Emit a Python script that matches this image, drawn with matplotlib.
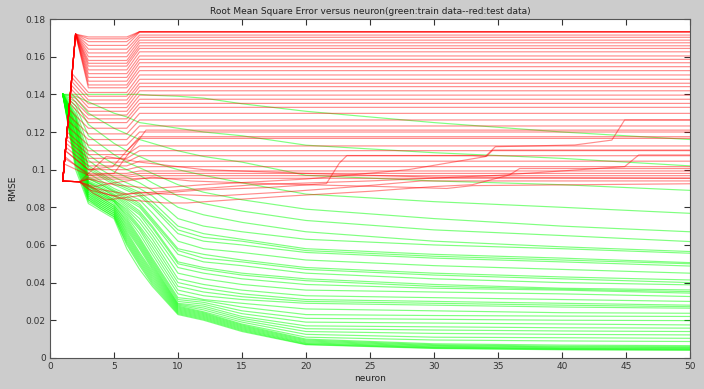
import numpy as np
import matplotlib.pyplot as plt
from matplotlib.ticker import FuncFormatter

# ---- train data (green): RMSE at these neuron counts, one row per run ----
green_x = [1, 2, 3, 4, 5, 6, 7, 8, 10, 12, 15, 20, 30, 40, 50]
green_lines = [
    [0.140, 0.100, 0.082, 0.078, 0.074, 0.058, 0.047, 0.038, 0.0230, 0.0200, 0.0140, 0.0070, 0.0050, 0.0043, 0.0040],
    [0.140, 0.102, 0.083, 0.079, 0.075, 0.060, 0.049, 0.039, 0.0235, 0.0205, 0.0145, 0.0072, 0.0052, 0.0045, 0.0043],
    [0.140, 0.103, 0.084, 0.079, 0.075, 0.061, 0.050, 0.040, 0.0240, 0.0210, 0.0150, 0.0076, 0.0055, 0.0048, 0.0046],
    [0.140, 0.104, 0.084, 0.080, 0.076, 0.062, 0.051, 0.041, 0.0245, 0.0215, 0.0155, 0.0080, 0.0058, 0.0050, 0.0048],
    [0.140, 0.105, 0.085, 0.080, 0.076, 0.063, 0.052, 0.042, 0.0250, 0.0220, 0.0160, 0.0085, 0.0062, 0.0054, 0.0052],
    [0.140, 0.106, 0.085, 0.081, 0.077, 0.064, 0.053, 0.043, 0.0255, 0.0225, 0.0165, 0.0090, 0.0066, 0.0058, 0.0055],
    [0.140, 0.107, 0.086, 0.081, 0.077, 0.065, 0.054, 0.044, 0.0260, 0.0230, 0.0170, 0.0095, 0.0070, 0.0062, 0.0060],
    [0.140, 0.108, 0.086, 0.082, 0.078, 0.066, 0.055, 0.045, 0.0265, 0.0235, 0.0175, 0.0100, 0.0075, 0.0068, 0.0065],
    [0.140, 0.109, 0.087, 0.082, 0.078, 0.067, 0.056, 0.046, 0.0270, 0.0240, 0.0180, 0.0110, 0.0095, 0.0090, 0.0087],
    [0.140, 0.110, 0.087, 0.083, 0.079, 0.068, 0.058, 0.047, 0.0275, 0.0245, 0.0190, 0.0125, 0.0110, 0.0107, 0.0104],
    [0.140, 0.111, 0.088, 0.083, 0.079, 0.069, 0.059, 0.048, 0.0280, 0.0255, 0.0200, 0.0140, 0.0130, 0.0125, 0.0122],
    [0.140, 0.112, 0.088, 0.084, 0.080, 0.070, 0.060, 0.049, 0.0285, 0.0265, 0.0210, 0.0155, 0.0148, 0.0143, 0.0140],
    [0.140, 0.113, 0.089, 0.084, 0.080, 0.071, 0.061, 0.050, 0.0290, 0.0275, 0.0220, 0.0170, 0.0165, 0.0160, 0.0158],
    [0.140, 0.114, 0.089, 0.085, 0.081, 0.072, 0.062, 0.051, 0.0300, 0.0285, 0.0235, 0.0190, 0.0185, 0.0180, 0.0175],
    [0.140, 0.115, 0.090, 0.085, 0.081, 0.073, 0.063, 0.052, 0.0310, 0.0295, 0.0250, 0.0210, 0.0205, 0.0200, 0.0198],
    [0.140, 0.116, 0.090, 0.086, 0.082, 0.074, 0.064, 0.053, 0.0320, 0.0305, 0.0270, 0.0230, 0.0225, 0.0222, 0.0220],
    [0.140, 0.117, 0.091, 0.086, 0.083, 0.075, 0.066, 0.055, 0.0340, 0.0310, 0.0290, 0.0260, 0.0250, 0.0240, 0.0237],
    [0.140, 0.118, 0.091, 0.087, 0.083, 0.076, 0.068, 0.057, 0.0360, 0.0330, 0.0310, 0.0290, 0.0280, 0.0270, 0.0264],
    [0.140, 0.1185, 0.0915, 0.087, 0.0835, 0.077, 0.069, 0.059, 0.0380, 0.0350, 0.0325, 0.0300, 0.0290, 0.0280, 0.0272],
    [0.140, 0.119, 0.092, 0.088, 0.084, 0.078, 0.070, 0.061, 0.0400, 0.0370, 0.0340, 0.0310, 0.0300, 0.0290, 0.0280],
    [0.140, 0.120, 0.092, 0.088, 0.084, 0.079, 0.072, 0.063, 0.0420, 0.0390, 0.0360, 0.0330, 0.0320, 0.0310, 0.0300],
    [0.140, 0.121, 0.093, 0.089, 0.085, 0.080, 0.074, 0.065, 0.0450, 0.0420, 0.0390, 0.0360, 0.0350, 0.0340, 0.0326],
    [0.140, 0.122, 0.093, 0.090, 0.086, 0.081, 0.076, 0.067, 0.0480, 0.0450, 0.0420, 0.0390, 0.0370, 0.0360, 0.0344],
    [0.140, 0.1225, 0.0935, 0.090, 0.0865, 0.082, 0.077, 0.069, 0.0500, 0.0470, 0.0440, 0.0410, 0.0380, 0.0365, 0.0352],
    [0.140, 0.123, 0.094, 0.091, 0.087, 0.083, 0.078, 0.070, 0.0510, 0.0480, 0.0450, 0.0420, 0.0390, 0.0370, 0.0361],
    [0.140, 0.124, 0.095, 0.092, 0.088, 0.084, 0.080, 0.072, 0.0550, 0.0510, 0.0490, 0.0450, 0.0420, 0.0400, 0.0388],
    [0.140, 0.1245, 0.0955, 0.092, 0.0885, 0.085, 0.081, 0.073, 0.0570, 0.0530, 0.0510, 0.0470, 0.0440, 0.0420, 0.0400],
    [0.140, 0.125, 0.096, 0.093, 0.089, 0.086, 0.082, 0.074, 0.0580, 0.0550, 0.0520, 0.0480, 0.0450, 0.0430, 0.0414],
    [0.140, 0.126, 0.098, 0.094, 0.090, 0.087, 0.084, 0.077, 0.0620, 0.0580, 0.0560, 0.0520, 0.0490, 0.0470, 0.0450],
    [0.140, 0.127, 0.100, 0.096, 0.092, 0.089, 0.086, 0.080, 0.0660, 0.0620, 0.0600, 0.0560, 0.0530, 0.0510, 0.0488],
    [0.140, 0.1275, 0.101, 0.097, 0.093, 0.090, 0.087, 0.081, 0.0680, 0.0640, 0.0620, 0.0570, 0.0540, 0.0520, 0.0500],
    [0.140, 0.128, 0.102, 0.098, 0.094, 0.091, 0.088, 0.083, 0.0700, 0.0660, 0.0630, 0.0580, 0.0550, 0.0530, 0.0506],
    [0.140, 0.129, 0.105, 0.100, 0.096, 0.093, 0.090, 0.086, 0.0740, 0.0700, 0.0670, 0.0630, 0.0600, 0.0580, 0.0556],
    [0.140, 0.130, 0.108, 0.103, 0.099, 0.096, 0.093, 0.089, 0.0800, 0.0760, 0.0720, 0.0670, 0.0620, 0.0590, 0.0565],
    [0.140, 0.132, 0.112, 0.107, 0.103, 0.100, 0.097, 0.093, 0.0860, 0.0820, 0.0780, 0.0730, 0.0680, 0.0650, 0.0618],
    [0.140, 0.134, 0.118, 0.113, 0.108, 0.104, 0.101, 0.098, 0.0920, 0.0880, 0.0840, 0.0790, 0.0740, 0.0700, 0.0670],
    [0.140, 0.136, 0.124, 0.119, 0.114, 0.110, 0.107, 0.104, 0.1000, 0.0970, 0.0930, 0.0870, 0.0830, 0.0800, 0.0768],
    [0.140, 0.138, 0.130, 0.126, 0.122, 0.119, 0.116, 0.114, 0.1100, 0.1070, 0.1040, 0.0970, 0.0940, 0.0920, 0.0890],
    [0.140, 0.139, 0.136, 0.133, 0.130, 0.128, 0.125, 0.124, 0.1220, 0.1200, 0.1180, 0.1130, 0.1090, 0.1060, 0.1020],
    [0.140, 0.140, 0.140, 0.140, 0.140, 0.140, 0.140, 0.1395, 0.1390, 0.1380, 0.1350, 0.1310, 0.1250, 0.1200, 0.1160],
]

# ---- test data (red): mostly flat runs ----
# start at neuron 1, turn point, level from 3 to 6, level from 7 to 50
red_start = 0.094
red_turn_x = [2, 2, 2, 2, 2, 2, 2, 2, 2, 2, 2, 2, 2, 2, 2, 2,
              1.73, 1.71, 1.68, 1.65, 1.63, 1.60, 1.58, 1.55, 1.53, 1.49, 1.45,
              1.41, 1.37, 1.33, 1.31, 1.28, 1.26, 1.23, 1.21, 1.15, 1.12, 2.3, 2.3]
red_turn_y = [0.172] * 16 + [0.151, 0.149, 0.147, 0.145, 0.143, 0.141, 0.139, 0.137,
                             0.135, 0.132, 0.129, 0.126, 0.123, 0.120, 0.118, 0.116,
                             0.114, 0.112, 0.110, 0.106, 0.103, 0.0935, 0.0935]
red_mid = [0.1705, 0.1695, 0.168, 0.166, 0.164, 0.162, 0.160, 0.158, 0.1565, 0.155,
           0.153, 0.151, 0.149, 0.147, 0.145, 0.1435, 0.141, 0.139, 0.137, 0.135,
           0.133, 0.131, 0.129, 0.127, 0.125, 0.122, 0.119, 0.116, 0.113, 0.110,
           0.108, 0.106, 0.104, 0.102, 0.100, 0.098, 0.097, 0.096, 0.095]
red_end = [0.1733, 0.1733, 0.1733, 0.1730, 0.1715, 0.1703, 0.1688, 0.1674, 0.1658,
           0.1644, 0.1626, 0.1604, 0.1586, 0.1568, 0.1547, 0.1526, 0.1503, 0.1480,
           0.1459, 0.1441, 0.1419, 0.1396, 0.1374, 0.1352, 0.1331, 0.1299, 0.1264,
           0.1232, 0.1200, 0.1166, 0.1126, 0.1101, 0.1074, 0.1045, 0.1016, 0.0993,
           0.0980, 0.0968, 0.0954]

# red runs that wander in the lower band
red_wander_x = [
    [1, 2.3, 3.4, 4.4, 6.5, 8.6, 11.7, 17, 21.6, 22.6, 23.2, 33, 34.1, 34.6, 50],
    [1, 2.3, 4, 6, 9, 10.7, 14.3, 18.2, 25, 30, 33, 35.9, 36.7, 50],
    [1, 2.3, 3, 5, 8, 12, 20, 28, 34.0, 34.8, 41.0, 43.9, 44.9, 50],
    [1, 2.3, 3.5, 6, 10, 16, 25, 35, 44.9, 46, 50],
    [1, 2.3, 4.4, 7, 12, 20, 30, 50],
    [1, 2.3, 3.5, 5, 8, 11, 15, 20, 26, 31, 33, 50],
    [1, 1.2, 3, 4.9, 7, 50],
    [1, 1.15, 3, 5, 7.5, 50],
    [1, 2.3, 3.2, 5, 7, 9, 13, 18, 24, 29, 50],
]
red_wander_y = [
    [0.094, 0.0935, 0.0874, 0.0839, 0.0857, 0.0874, 0.0892, 0.0905, 0.0926, 0.1034, 0.1075, 0.1075, 0.107, 0.1104, 0.1104],
    [0.094, 0.0935, 0.088, 0.084, 0.0823, 0.0823, 0.084, 0.0858, 0.0885, 0.091, 0.092, 0.0972, 0.1006, 0.1006],
    [0.094, 0.0935, 0.095, 0.092, 0.090, 0.092, 0.095, 0.100, 0.1069, 0.1122, 0.1131, 0.1157, 0.1264, 0.1264],
    [0.094, 0.0935, 0.090, 0.087, 0.089, 0.092, 0.094, 0.097, 0.1016, 0.1078, 0.1078],
    [0.094, 0.0935, 0.107, 0.104, 0.100, 0.098, 0.096, 0.0955],
    [0.094, 0.0935, 0.091, 0.093, 0.096, 0.094, 0.093, 0.092, 0.091, 0.090, 0.0915, 0.0925],
    [0.094, 0.110, 0.100, 0.1016, 0.1175, 0.1175],
    [0.094, 0.107, 0.097, 0.098, 0.121, 0.121],
    [0.094, 0.0935, 0.089, 0.086, 0.088, 0.087, 0.086, 0.088, 0.091, 0.094, 0.094],
]

fig = plt.figure(figsize=(7.04, 3.89), dpi=100, facecolor='#cccccc')
ax = fig.add_axes([0.071, 0.080, 0.909, 0.871])

for ys in green_lines:
    ax.plot(green_x, ys, color='#00ff00', lw=0.85, alpha=0.5)

for tx, ty, b, c in zip(red_turn_x, red_turn_y, red_mid, red_end):
    ax.plot([1, tx, 3, 6, 7, 50], [red_start, ty, b, b, c, c],
            color='#ff0000', lw=0.85, alpha=0.45)

for xs, ys in zip(red_wander_x, red_wander_y):
    ax.plot(xs, ys, color='#ff0000', lw=0.85, alpha=0.45)

ax.set_xlim(0, 50)
ax.set_ylim(0, 0.18)
ax.set_xticks(np.arange(0, 51, 5))
ax.set_yticks(np.arange(0, 0.181, 0.02))
ax.yaxis.set_major_formatter(FuncFormatter(lambda v, p: '%g' % round(v, 2)))
ax.tick_params(direction='in', top=True, right=True, length=4, width=0.8,
               labelsize=6.5, colors='#333333', pad=3)
for s in ax.spines.values():
    s.set_color('#555555')
    s.set_linewidth(0.8)

ax.set_title('Root Mean Square Error versus neuron(green:train data--red:test data)',
             fontsize=6.5, pad=4, color='#222222')
ax.set_xlabel('neuron', fontsize=6.5, labelpad=2, color='#222222')
ax.set_ylabel('RMSE', fontsize=6.5, labelpad=6, color='#222222')

fig.savefig('out.png', dpi=100, facecolor=fig.get_facecolor())
